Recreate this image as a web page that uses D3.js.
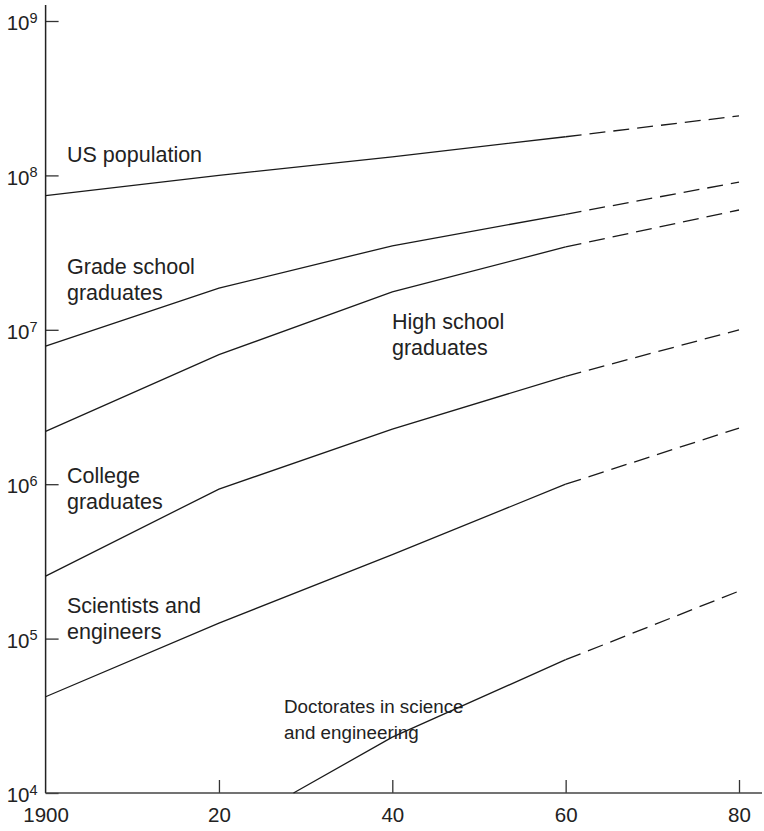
<!DOCTYPE html>
<html>
<head>
<meta charset="utf-8">
<script src="https://cdn.jsdelivr.net/npm/d3@7"></script>
<style>
  body { margin: 0; background: #fff; }
  svg { display: block; font-family: "Liberation Sans", Arial, sans-serif; }
  .series { fill: none; stroke: #1a1a1a; stroke-width: 1.3; }
  .proj { stroke-dasharray: 16 8; }
  .lbl { font-size: 21.5px; fill: #222; }
  .lbl.small { font-size: 18.8px; }
  .tick text { font-size: 20.5px; fill: #222; font-family: "Liberation Sans", Arial, sans-serif; }
  .tick line { stroke: #333; stroke-width: 1.3; }
</style>
</head>
<body>
<svg id="chart"></svg>
<script>
// ---- data ----
var years = [1900, 1920, 1940, 1960];
var projYears = [1960, 1980];
var usPopulation = [7.4e7, 1.0e8, 1.32e8, 1.78e8];
var usPopulationProj = [1.78e8, 2.43e8];
var gradeSchool = [7.85e6, 1.86e7, 3.5e7, 5.6e7];
var gradeSchoolProj = [5.6e7, 9.05e7];
var highSchool = [2.2e6, 6.9e6, 1.76e7, 3.44e7];
var highSchoolProj = [3.44e7, 5.97e7];
var college = [2.54e5, 9.3e5, 2.27e6, 5.0e6];
var collegeProj = [5.0e6, 1.0e7];
var scientists = [4.2e4, 1.26e5, 3.5e5, 1.0e6];
var scientistsProj = [1.0e6, 2.31e6];
var doctorateYears = [1928.6, 1940, 1960];
var doctorates = [1.0e4, 2.3e4, 7.3e4];
var doctoratesProj = [7.3e4, 2.03e5];
var xTicks = [1900, 1920, 1940, 1960, 1980];
var yTicks = [1e4, 1e5, 1e6, 1e7, 1e8, 1e9];

var series = [
  {name: "US population", xs: years, ys: usPopulation, pys: usPopulationProj, lines: ["US population"]},
  {name: "Grade school graduates", xs: years, ys: gradeSchool, pys: gradeSchoolProj, lines: ["Grade school", "graduates"]},
  {name: "High school graduates", xs: years, ys: highSchool, pys: highSchoolProj, lines: ["High school", "graduates"]},
  {name: "College graduates", xs: years, ys: college, pys: collegeProj, lines: ["College", "graduates"]},
  {name: "Scientists and engineers", xs: years, ys: scientists, pys: scientistsProj, lines: ["Scientists and", "engineers"]},
  {name: "Doctorates in science and engineering", xs: doctorateYears, ys: doctorates, pys: doctoratesProj, lines: ["Doctorates in science", "and engineering"]}
];

// where each label sits (pixels, first baseline)
var labelPos = {
  "US population": [67, 162],
  "Grade school graduates": [67, 274],
  "High school graduates": [392, 329],
  "College graduates": [67, 483],
  "Scientists and engineers": [67, 613],
  "Doctorates in science and engineering": [284, 713]
};

// ---- setup ----
var width = 764, height = 831;
var svg = d3.select("#chart").attr("width", width).attr("height", height);

var x = d3.scaleLinear().domain([1900, 1980]).range([45.6, 739]);
var y = d3.scaleLog().domain([1e4, 1e9]).range([793, 21]);

var line = d3.line().x(function(d){ return x(d[0]); }).y(function(d){ return y(d[1]); });

// ---- axes ----
var yAxis = svg.append("g")
  .attr("transform", "translate(" + x(1900) + ",0)")
  .call(d3.axisLeft(y).tickValues(yTicks).tickSize(-13).tickPadding(8).tickFormat(function(){ return ""; }));
yAxis.select(".domain").remove();
yAxis.selectAll(".tick text").each(function(d){
  var t = d3.select(this);
  t.append("tspan").text("10");
  t.append("tspan").attr("dy", "-0.5em").style("font-size", "14.5px").text(Math.round(Math.log10(d)));
});
yAxis.selectAll(".tick text").attr("dy", "0.42em");

var xAxis = svg.append("g")
  .attr("transform", "translate(0," + y(1e4) + ")")
  .call(d3.axisBottom(x).tickValues(xTicks).tickSize(-13).tickPadding(14)
    .tickFormat(function(d){ return d === 1900 ? "1900" : String(d).slice(2); }));
xAxis.select(".domain").remove();
xAxis.selectAll(".tick line").filter(function(d){ return d === 1900; }).remove();

// axis lines
svg.append("line").attr("x1", x(1900)).attr("x2", x(1900)).attr("y1", 5).attr("y2", y(1e4))
  .attr("stroke", "#222").attr("stroke-width", 1.5);
svg.append("line").attr("x1", x(1900)).attr("x2", 762).attr("y1", y(1e4)).attr("y2", y(1e4))
  .attr("stroke", "#444").attr("stroke-width", 1.5);

// ---- series ----
var g = svg.append("g");
series.forEach(function(s, k){
  var pts = s.xs.map(function(yr, i){ return [yr, s.ys[i]]; });
  g.append("path").attr("class", "series").attr("d", line(pts));
  var pp = projYears.map(function(yr, i){ return [yr, s.pys[i]]; });
  g.append("path").attr("class", "series proj").attr("d", line(pp));

  var p = labelPos[s.name];
  var t = svg.append("text").attr("class", k === series.length - 1 ? "lbl small" : "lbl")
    .attr("x", p[0]).attr("y", p[1]);
  s.lines.forEach(function(l, i){
    t.append("tspan").attr("x", p[0]).attr("dy", i === 0 ? 0 : 26).text(l);
  });
});
</script>
</body>
</html>
